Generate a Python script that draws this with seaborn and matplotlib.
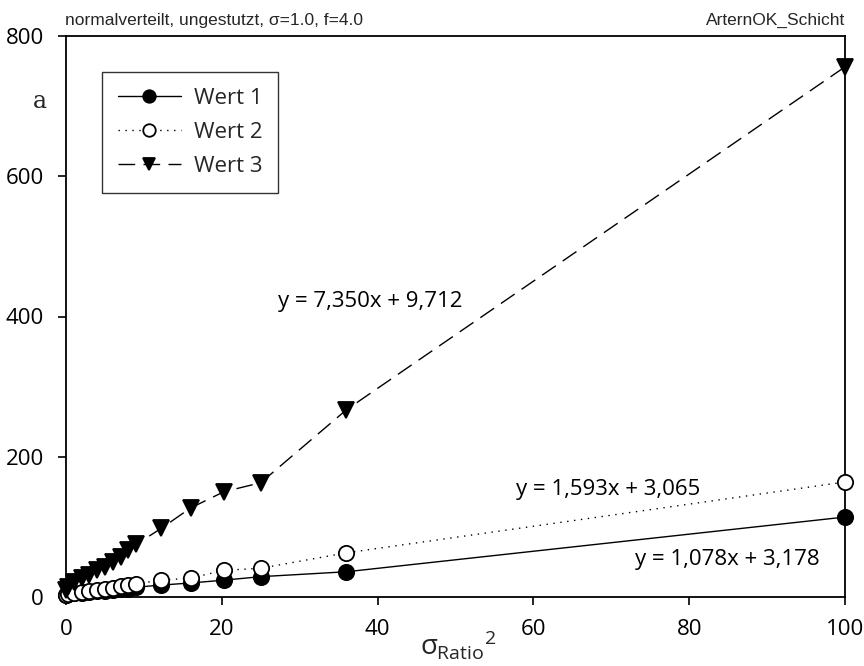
import matplotlib
matplotlib.use("Agg")
import matplotlib.pyplot as plt
import seaborn as sns
import pandas as pd

sns.set_theme(style="white")
plt.rcParams['font.family'] = ['Open Sans', 'DejaVu Sans']
plt.rcParams['mathtext.fontset'] = 'custom'
plt.rcParams['mathtext.rm'] = 'Open Sans'
plt.rcParams['mathtext.it'] = 'Open Sans'

x_vals = [0, 0.25, 1, 2, 3, 4, 5, 6, 7, 8, 9, 12.25, 16, 20.25, 25, 36, 100]
wert1 = [3, 4, 5, 6, 7, 8, 9, 10, 11, 12, 14, 17, 20, 24, 29, 36, 114]
wert2 = [3, 4, 5, 7, 9, 10, 11, 13, 15, 17, 19, 24, 27, 38, 41, 63, 164]
wert3 = [10, 14, 21, 27, 31, 38, 43, 50, 57, 67, 75, 98, 127, 150, 163, 267, 756]
series_names = ["Wert 1", "Wert 2", "Wert 3"]
equations = ["y = 1,078x + 3,178", "y = 1,593x + 3,065", "y = 7,350x + 9,712"]
x_ticks = [0, 20, 40, 60, 80, 100]
y_ticks = [0, 200, 400, 600, 800]

df = pd.DataFrame({"x": x_vals, "Wert 1": wert1, "Wert 2": wert2, "Wert 3": wert3})

fig = plt.figure(figsize=(8.64, 6.66), dpi=100)
ax = fig.add_axes([66/864, 1-597/666, (845-66)/864, (597-36)/666])

styles = [
    dict(linestyle="-", marker="o", markerfacecolor="black", markersize=11),
    dict(linestyle=(0, (1, 4)), marker="o", markerfacecolor="white", markersize=11),
    dict(linestyle=(0, (12, 6)), marker="v", markerfacecolor="black", markersize=12),
]
for name, st in zip(series_names, styles):
    sns.lineplot(data=df, x="x", y=name, ax=ax, color="black", linewidth=1.0,
                 markeredgecolor="black", markeredgewidth=1.3, label=name,
                 clip_on=False, zorder=3, **st)

ax.set_xlim(0, 100)
ax.set_ylim(0, 800)
ax.set_xticks(x_ticks)
ax.set_yticks(y_ticks)
ax.tick_params(axis="both", which="major", direction="out", length=6, width=1.2,
               labelsize=16, color="black", labelcolor="black", bottom=True, left=True)
ax.tick_params(axis="x", pad=10)
ax.tick_params(axis="y", pad=10)
for s in ax.spines.values():
    s.set_color("black")
    s.set_linewidth(1.3)
ax.set_xlabel("")
ax.set_ylabel("")

leg = ax.legend(loc="upper left", bbox_to_anchor=((102-66)/779, 1-(72-36)/561),
                frameon=True, fancybox=False, fontsize=16, handlelength=2.85,
                borderpad=0.7, labelspacing=0.6, handletextpad=0.6, borderaxespad=0)
leg.get_frame().set_edgecolor("black")
leg.get_frame().set_linewidth(1.0)
for h in leg.legend_handles:
    h.set_markersize(9)

ax.text(27.2, 421, equations[2], fontsize=16, color="black", va="center")
ax.text(57.8, 153, equations[1], fontsize=16, color="black", va="center")
ax.text(73.0, 53, equations[0], fontsize=16, color="black", va="center")

fig.text(65/864, 1-20/666, "normalverteilt, ungestutzt, σ=1.0, f=4.0",
         fontsize=12.5, family=["Liberation Sans", "DejaVu Sans"], ha="left", va="center")
fig.text(845/864, 1-20/666, "ArternOK_Schicht",
         fontsize=12.5, family=["Liberation Sans", "DejaVu Sans"], ha="right", va="center")
fig.text(40/864, 1-102/666, "a", fontsize=17, family=["DejaVu Serif"], ha="center", va="center")
fig.text(458/864, 1-645/666, r"$\sigma_{\mathrm{Ratio}}{}^{2}$", fontsize=20, ha="center", va="center")

fig.savefig("out.png", dpi=100)
